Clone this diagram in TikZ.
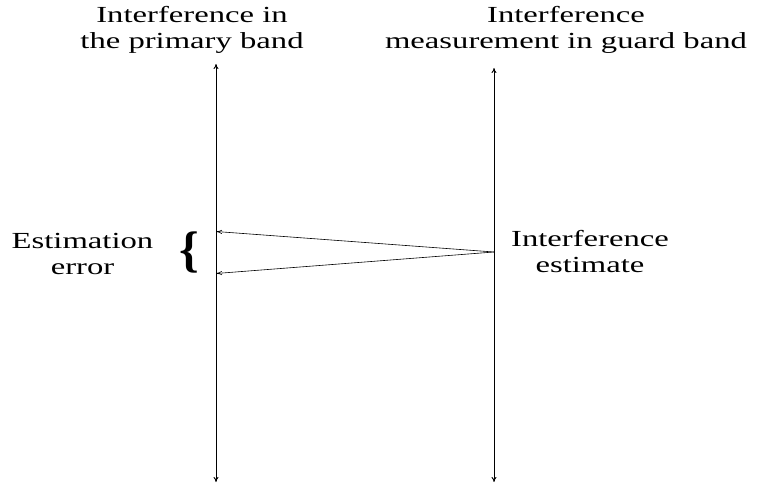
\documentclass[tikz,border=0pt]{standalone}
\usepackage{fontspec}
\setmainfont{Liberation Serif}
\newfontfamily\widefont[FakeStretch=1.42]{Liberation Serif}
\usetikzlibrary{arrows.meta}
\begin{document}
\begin{tikzpicture}[x=1pt,y=-1pt,
  lbl/.style={align=center,font=\widefont\fontsize{23}{26}\selectfont,inner sep=0pt},
  axis/.style={line width=0.9pt,{To[length=5pt,width=5pt]}-{To[length=5pt,width=5pt]}},
  est/.style={line width=0.6pt,-{To[length=6pt,width=4pt]}}]
\useasboundingbox (0,0) rectangle (758,484);
\coordinate (ltop) at (216,64);
\coordinate (lbot) at (216,482);
\coordinate (rtop) at (494,68);
\coordinate (rbot) at (494,482);
\coordinate (src) at (494,252);
\coordinate (hi) at (216,231.5);
\coordinate (lo) at (216,273.5);
\draw[axis] (lbot) -- (ltop);
\draw[axis] (rbot) -- (rtop);
\draw[est] (src) -- (hi);
\draw[est] (src) -- (lo);
\node[lbl] (tl) at (192,29.5) {Interference in\\the primary band};
\node[lbl] (tr) at (566,29.5) {Interference\\measurement in guard band};
\node[lbl] (el) at (82.5,254) {Estimation\\error};
\node[lbl] (er) at (590,252) {Interference\\estimate};
\node[inner sep=0pt,font=\bfseries\fontsize{50}{50}\selectfont] (br) at (189,252) {\{};
\end{tikzpicture}
\end{document}
